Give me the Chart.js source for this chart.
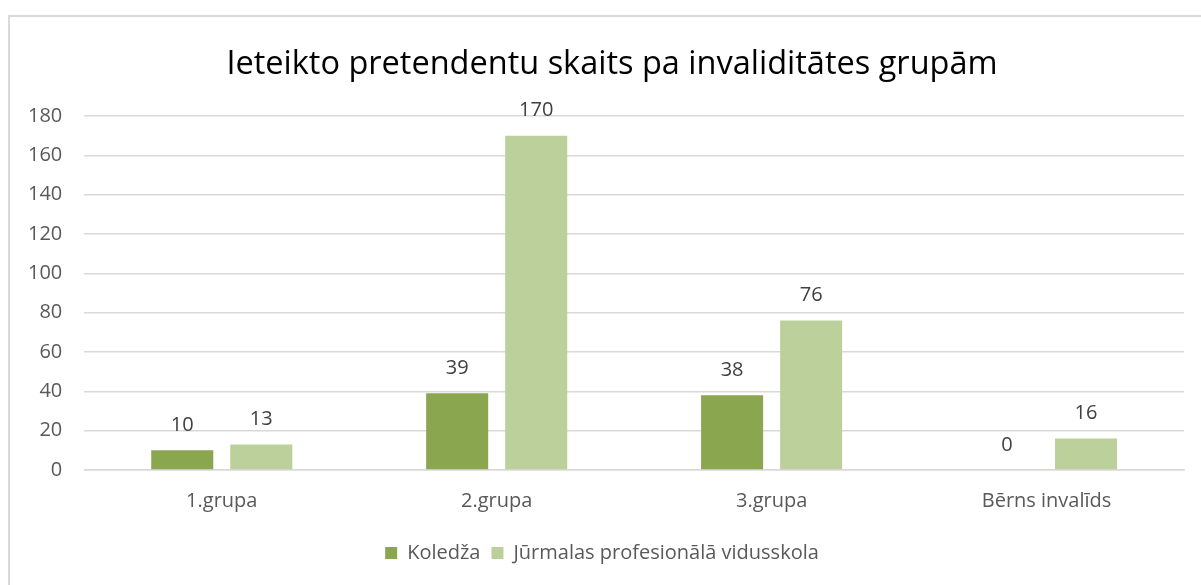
<!DOCTYPE html>
<html>
<head>
<meta charset="utf-8">
<script src="https://cdn.jsdelivr.net/npm/chart.js@4/dist/chart.umd.min.js"></script>
<style>
  html, body { margin: 0; padding: 0; background: #ffffff; }
  #wrap { position: relative; width: 1201px; height: 585px; }
</style>
</head>
<body>
<div id="wrap"><canvas id="c" width="1201" height="585"></canvas></div>
<script>
const categories = ['1.grupa', '2.grupa', '3.grupa', 'Bērns invalīds'];
const koledza = [10, 39, 38, 0];
const jurmalas = [13, 170, 76, 16];
const seriesNames = ['Koledža', 'Jūrmalas profesionālā vidusskola'];
const yTicks = { min: 0, max: 180, step: 20 };
const titleText = 'Ieteikto pretendentu skaits pa invaliditātes grupām';

const FONT = '"Open Sans", "Liberation Sans", sans-serif';

const frame = {
  id: 'frame',
  beforeDraw(chart) {
    const ctx = chart.ctx;
    ctx.save();
    ctx.fillStyle = '#ffffff';
    ctx.fillRect(0, 0, chart.width, chart.height);
    ctx.strokeStyle = '#d9d9d9';
    ctx.lineWidth = 2;
    ctx.strokeRect(9, 16, 1400, 800);
    ctx.restore();
  }
};

// nudge the title and legend blocks to sit where the reference centres them
const centreShift = {
  id: 'centreShift',
  afterLayout(chart) {
    if (chart.titleBlock) { chart.titleBlock.left += 17; chart.titleBlock.right += 17; }
    if (chart.legend) { chart.legend.left += 7; chart.legend.right += 7; }
  }
};

const valueLabels = {
  id: 'valueLabels',
  afterDatasetsDraw(chart) {
    const ctx = chart.ctx;
    ctx.save();
    ctx.font = '20px ' + FONT;
    ctx.fillStyle = '#404040';
    ctx.textAlign = 'center';
    ctx.textBaseline = 'middle';
    chart.data.datasets.forEach((ds, i) => {
      const meta = chart.getDatasetMeta(i);
      meta.data.forEach((el, j) => {
        ctx.fillText(String(ds.data[j]), el.x, el.y - 25);
      });
    });
    ctx.restore();
  }
};

new Chart(document.getElementById('c'), {
  type: 'bar',
  data: {
    labels: categories,
    datasets: [
      { label: seriesNames[0], data: koledza, backgroundColor: '#8aa74f', borderWidth: 0 },
      { label: seriesNames[1], data: jurmalas, backgroundColor: '#bbd09a', borderWidth: 0 }
    ]
  },
  options: {
    responsive: false,
    animation: false,
    devicePixelRatio: 1,
    categoryPercentage: 0.575,
    barPercentage: 0.785,
    layout: { padding: { left: 6, right: 17, top: 33, bottom: 12 } },
    plugins: {
      title: {
        display: true,
        text: titleText,
        color: '#000000',
        font: { family: FONT, size: 32.5, weight: 'normal' },
        padding: { top: 12, bottom: 32 }
      },
      legend: {
        position: 'bottom',
        labels: {
          color: '#595959',
          font: { family: FONT, size: 20 },
          boxWidth: 12,
          boxHeight: 12,
          padding: 11
        }
      },
      tooltip: { enabled: false }
    },
    scales: {
      x: {
        grid: { display: false, drawTicks: false },
        border: { display: true, color: '#d9d9d9', width: 1.5 },
        ticks: { color: '#595959', font: { family: FONT, size: 20 }, padding: 19 }
      },
      y: {
        min: yTicks.min,
        max: yTicks.max,
        grid: { color: '#d9d9d9', lineWidth: 1.5, drawTicks: false },
        border: { display: false },
        ticks: { stepSize: yTicks.step, color: '#595959', font: { family: FONT, size: 20 }, padding: 22 }
      }
    }
  },
  plugins: [frame, centreShift, valueLabels]
});
</script>
</body>
</html>
